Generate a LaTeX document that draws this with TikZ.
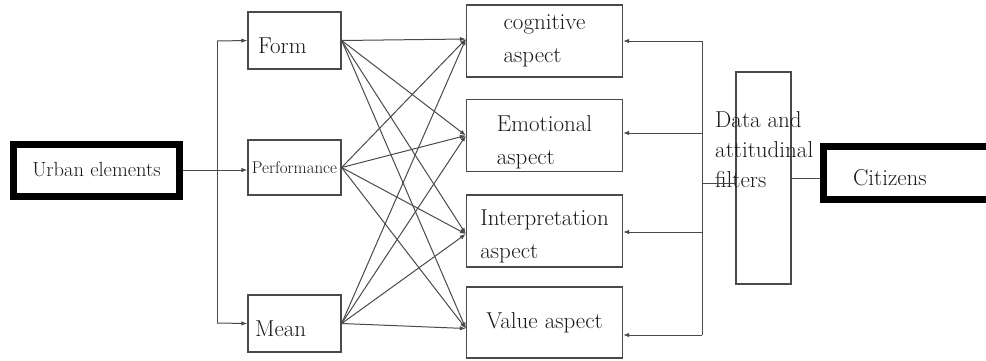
\documentclass[tikz,border=0pt]{standalone}
\usepackage{xcolor}
\definecolor{cLine}{HTML}{4A4A4A}
\definecolor{cText}{HTML}{1A1A1A}
\definecolor{cFrame}{HTML}{000000}
\usetikzlibrary{arrows.meta,calc}
\tikzset{
  node-box/.style={draw=cLine,line width=1.3pt,minimum width=93pt,minimum height=57pt,
    inner sep=0pt,text=cText,font=\fontsize{23}{26}\selectfont},
  node-low/.style={text height=25pt,text depth=0pt},
  node-aspect/.style={draw=cLine,line width=1.3pt,minimum width=156pt,minimum height=72pt,
    inner sep=0pt,align=left,text=cText,font=\fontsize{23}{33}\selectfont},
  node-filter/.style={draw=cLine,line width=1.3pt,minimum width=55pt,minimum height=212pt},
  % black framed end points (urban side / citizen side)
  node-end/.style={draw=cFrame,line width=7pt,inner sep=0pt,text=cText},
  arrow/.style={-{Latex[length=6pt,width=4.5pt]},line width=1pt,draw=cLine},
  link/.style={line width=1pt,draw=cLine},
}
\begin{document}
\begin{tikzpicture}[x=1pt,y=-1pt]
  \useasboundingbox (0,0) rectangle (986,360);
  % source and layer of elements
  \node[node-end,minimum width=166pt,minimum height=52pt,font=\fontsize{20.5}{22}\selectfont]
    (urban) at (96.5,170) {Urban elements};
  \node[node-box,node-low,text width=73pt] (form) at (294.5,40.5) {Form};
  \node[node-box,minimum height=55pt,font=\fontsize{17}{19}\selectfont] (perf) at (294.5,167.5) {Performance};
  \node[node-box,node-low,text width=79pt] (mean) at (294.5,323.5) {Mean};
  % aspects
  \node[node-aspect] (cog) at (544.5,41) {cognitive\\aspect};
  \node[node-aspect] (emo) at (544.5,135.5) {\rule{0pt}{30pt}Emotional\\aspect};
  \node[node-aspect] (int) at (544.5,231) {\rule{0pt}{26pt}Interpretation\\aspect};
  \node[node-aspect,minimum height=71pt] (val) at (544.5,322.5) {Value aspect};
  % filters and citizens
  \node[node-filter] (filt) at (763.5,178) {};
  \node[anchor=north west,align=left,inner sep=0pt,text=cText,font=\fontsize{23}{30}\selectfont]
    (filttxt) at (715,111) {Data and\\attitudinal\\filters};
  \node[node-end,node-low,minimum width=170pt,minimum height=53pt,font=\fontsize{23}{25}\selectfont,
    text width=150pt,align=left] (cit) at (908,173) {\hspace*{20pt}Citizens};

  % left bus
  \coordinate (lbus-t) at (217,41);
  \coordinate (lbus-b) at (217,323);
  \draw[link] (lbus-t) -- (lbus-b);
  \draw[arrow] (urban.east) -- (perf.west |- urban.east);
  \draw[arrow] (lbus-t) -- (form.west);
  \draw[arrow] (lbus-b) -- (mean.west);

  % every element to every aspect
  \foreach \src in {form,perf,mean}
    \foreach \dst/\dy in {cog/2,emo/0,int/-3,val/-6}
      \draw[arrow] (\src.east) -- ([yshift=\dy pt]\dst.west);

  % right bus
  \coordinate (rbus-t) at (702,41);
  \coordinate (rbus-b) at (702,335);
  \coordinate (rbus-m) at (702,183);
  \draw[link] (rbus-t) -- (rbus-b);
  \draw[arrow] (rbus-t) -- (cog.east |- rbus-t);
  \draw[arrow] (702,133) -- (emo.east |- 0,133);
  \draw[arrow] (702,232) -- (int.east |- 0,232);
  \draw[arrow] (rbus-b) -- (val.east |- rbus-b);
  \draw[link] (rbus-m) -- (filt.west |- rbus-m);
  \draw[link] (filt.east |- 0,178) -- (cit.west |- 0,178);
\end{tikzpicture}
\end{document}
